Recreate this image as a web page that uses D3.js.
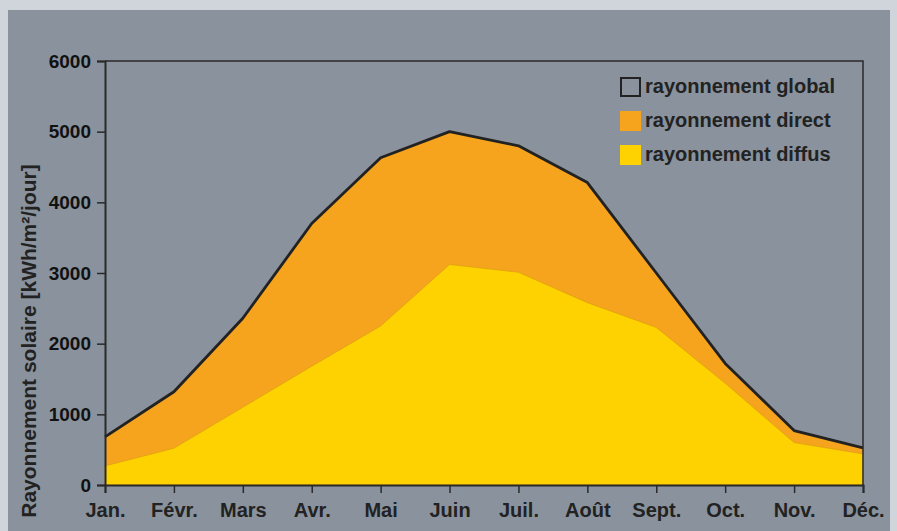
<!DOCTYPE html>
<html>
<head>
<meta charset="utf-8">
<script src="https://cdn.jsdelivr.net/npm/d3@7"></script>
<style>
  body { margin: 0; background: #d0d5dc; }
  svg { display: block; font-family: "Liberation Sans", Arial, sans-serif; font-weight: bold; }
</style>
</head>
<body>
<div id="chart"></div>
<script>
// months and monthly values
const months = ["Jan.", "Févr.", "Mars", "Avr.", "Mai", "Juin", "Juil.", "Août", "Sept.", "Oct.", "Nov.", "Déc."];
const globalRad = [680, 1320, 2360, 3700, 4630, 5000, 4800, 4280, 3000, 1720, 770, 525];
const diffuseRad = [270, 520, 1100, 1680, 2250, 3120, 3010, 2580, 2230, 1440, 600, 440];
const yTicks = [0, 1000, 2000, 3000, 4000, 5000, 6000];
const legendItems = ["rayonnement global", "rayonnement direct", "rayonnement diffus"];

const width = 897;
const height = 531;
const margin = { top: 61, right: 34, bottom: 46, left: 105 };

const svg = d3.select("#chart")
  .append("svg")
  .attr("width", width)
  .attr("height", height);

// grey panel
svg.append("rect")
  .attr("x", 8)
  .attr("y", 10)
  .attr("width", 882)
  .attr("height", height - 10)
  .attr("fill", "#89929d");

const x = d3.scalePoint()
  .domain(months)
  .range([margin.left, width - margin.right]);

const y = d3.scaleLinear()
  .domain([0, 6000])
  .range([height - margin.bottom, margin.top]);

const data = months.map((m, i) => ({ m, g: globalRad[i], d: diffuseRad[i] }));

// direct = between diffuse and global
svg.append("path")
  .datum(data)
  .attr("fill", "#f6a31d")
  .attr("d", d3.area().x(d => x(d.m)).y0(y(0)).y1(d => y(d.g)));

svg.append("path")
  .datum(data)
  .attr("fill", "#fdd200")
  .attr("stroke", "#d99a10")
  .attr("stroke-width", 0.6)
  .attr("d", d3.area().x(d => x(d.m)).y0(y(0)).y1(d => y(d.d)));

svg.append("path")
  .datum(data)
  .attr("fill", "none")
  .attr("stroke", "#222")
  .attr("stroke-width", 2.8)
  .attr("stroke-linejoin", "round")
  .attr("d", d3.line().x(d => x(d.m)).y(d => y(d.g)));

// frame top and right
svg.append("path")
  .attr("fill", "none")
  .attr("stroke", "#2a2a2a")
  .attr("stroke-width", 1.5)
  .attr("d", `M${x.range()[0]},${y(6000)}H${x.range()[1]}V${y(0)}`);

// axes
const yAxis = svg.append("g")
  .attr("transform", `translate(${margin.left},0)`)
  .call(d3.axisLeft(y).tickValues(yTicks).tickSize(8).tickPadding(6).tickFormat(d3.format("d")));

const xAxis = svg.append("g")
  .attr("transform", `translate(0,${y(0)})`)
  .call(d3.axisBottom(x).tickSize(8).tickPadding(10));

[yAxis, xAxis].forEach(g => {
  g.select(".domain").attr("stroke", "#2a2a2a").attr("stroke-width", 2);
  g.selectAll(".tick line").attr("stroke", "#2a2a2a").attr("stroke-width", 1.5);
  g.selectAll(".tick text")
    .attr("fill", "#111")
    .attr("font-weight", "bold")
    .attr("font-family", "Liberation Sans, Arial, sans-serif");
});
yAxis.selectAll(".tick text").attr("font-size", 19);
xAxis.selectAll(".tick text").attr("font-size", 20).attr("fill", "#222");

// y title
svg.append("text")
  .attr("transform", "translate(36,341) rotate(-90)")
  .attr("text-anchor", "middle")
  .attr("font-size", 21)
  .attr("fill", "#222")
  .text("Rayonnement solaire [kWh/m²/jour]");

// legend
const legend = svg.append("g").attr("transform", "translate(620,77)");
const swatch = ["none", "#f6a31d", "#fdd200"];
legendItems.forEach((t, i) => {
  const row = legend.append("g").attr("transform", `translate(0,${i * 34})`);
  row.append("rect")
    .attr("x", i === 0 ? 1 : 0)
    .attr("y", i === 0 ? 1 : 0)
    .attr("width", i === 0 ? 19 : 21)
    .attr("height", i === 0 ? 18 : 20)
    .attr("fill", swatch[i])
    .attr("stroke", i === 0 ? "#222" : "none")
    .attr("stroke-width", 2);
  row.append("text")
    .attr("x", 25)
    .attr("y", 16)
    .attr("font-size", 20)
    .attr("fill", "#222")
    .text(t);
});
</script>
</body>
</html>
